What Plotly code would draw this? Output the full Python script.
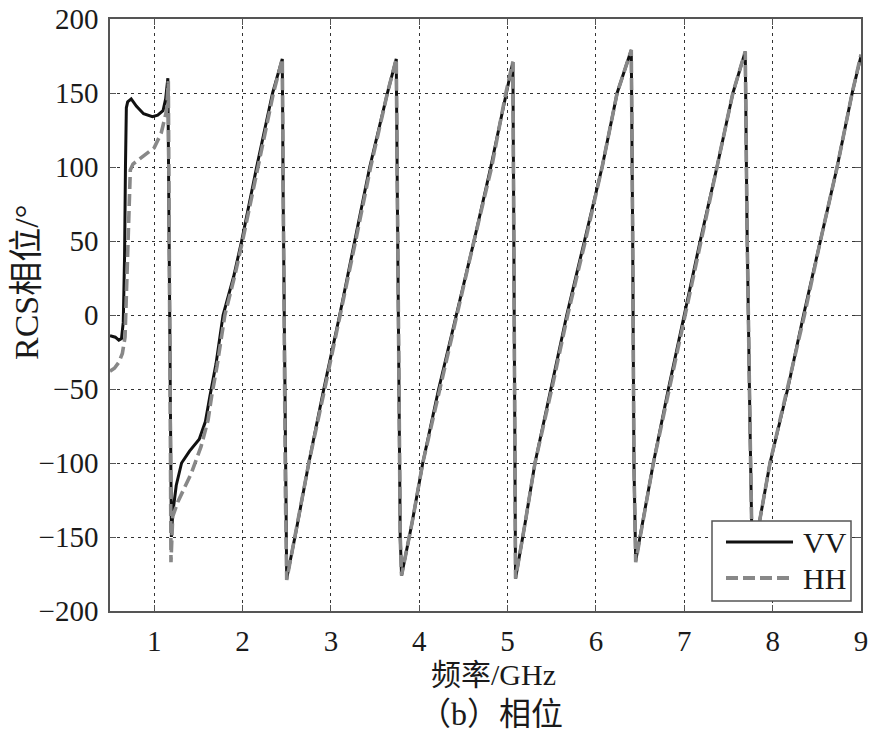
import plotly.graph_objects as go

# ---------------- data ----------------
vv_freq = [0.50, 0.56, 0.60, 0.63, 0.65, 0.665, 0.675, 0.685, 0.70, 0.74, 0.80, 0.88, 0.98, 1.04, 1.10, 1.13, 1.155,
           1.165, 1.175, 1.185, 1.195,
           1.21, 1.25, 1.31, 1.40, 1.51, 1.58, 1.63, 1.70, 1.78, 1.90, 1.99, 2.16, 2.34, 2.45,
           2.46, 2.47, 2.485, 2.50,
           2.60, 2.75, 2.92, 3.10, 3.27, 3.44, 3.64, 3.74,
           3.755, 3.77, 3.785, 3.80,
           3.92, 4.04, 4.22, 4.42, 4.62, 4.81, 4.98, 5.06,
           5.07, 5.08, 5.09,
           5.20, 5.31, 5.49, 5.67, 5.87, 6.07, 6.24, 6.40,
           6.415, 6.43, 6.45,
           6.50, 6.65, 6.82, 7.00, 7.18, 7.37, 7.55, 7.69,
           7.71, 7.745, 7.765, 7.79,
           7.85, 7.97, 8.17, 8.35, 8.54, 8.73, 8.90, 9.00]
vv_phase = [-14, -15, -17, -16, -5, 40, 100, 140, 144, 146, 141, 136, 134, 135, 138, 146, 160,
            80, -20, -100, -150,
            -134, -115, -100, -92, -84, -72, -55, -33, 0, 26, 50, 100, 150, 173,
            80, 0, -120, -178,
            -148, -100, -50, 0, 50, 100, 150, 173,
            60, -50, -150, -176,
            -140, -100, -50, 0, 50, 100, 150, 171,
            60, -80, -178,
            -140, -100, -50, 0, 50, 100, 150, 179,
            60, -100, -166,
            -150, -100, -50, 0, 50, 100, 150, 178,
            60, -80, -150, -175,
            -140, -100, -50, 0, 50, 100, 150, 175]

hh_freq = [0.50, 0.55, 0.60, 0.64, 0.67, 0.69, 0.71, 0.73, 0.76, 0.89, 1.00, 1.08, 1.14, 1.16,
           1.17, 1.18, 1.185, 1.19,
           1.21, 1.27, 1.33, 1.42, 1.53, 1.61, 1.65, 1.71, 1.80, 1.91, 2.00, 2.17, 2.35, 2.45,
           2.46, 2.47, 2.485, 2.50,
           2.60, 2.75, 2.93, 3.11, 3.28, 3.45, 3.64, 3.74,
           3.755, 3.77, 3.785, 3.80,
           3.92, 4.04, 4.23, 4.43, 4.62, 4.82, 4.98, 5.06,
           5.07, 5.08, 5.09,
           5.20, 5.31, 5.50, 5.68, 5.88, 6.07, 6.24, 6.40,
           6.415, 6.43, 6.45,
           6.50, 6.65, 6.83, 7.01, 7.19, 7.37, 7.55, 7.69,
           7.71, 7.745, 7.765, 7.79,
           7.85, 7.97, 8.17, 8.36, 8.54, 8.73, 8.90, 9.00]
hh_phase = [-38, -36, -32, -26, -15, 20, 70, 98, 102, 108, 113, 123, 138, 158,
            80, -20, -100, -167,
            -136, -126, -118, -107, -89, -71, -55, -35, 0, 26, 50, 100, 150, 173,
            80, 0, -120, -179,
            -148, -100, -50, 0, 50, 100, 150, 173,
            60, -50, -150, -176,
            -140, -100, -50, 0, 50, 100, 150, 171,
            60, -80, -178,
            -140, -100, -50, 0, 50, 100, 150, 179,
            60, -100, -167,
            -150, -100, -50, 0, 50, 100, 150, 178,
            60, -80, -150, -175,
            -140, -100, -50, 0, 50, 100, 150, 176]

x_ticks = [1, 2, 3, 4, 5, 6, 7, 8, 9]
y_ticks = [-200, -150, -100, -50, 0, 50, 100, 150, 200]
series_names = ["VV", "HH"]

# ---------------- layout constants (window pixel coordinates) ----------------
W, H = 881, 735
L, R, T, B = 110, 861, 19, 611
PW, PH = R - L, B - T


def px(xp):
    return (xp - L) / PW


def py(yp):
    return (B - yp) / PH


FONT = "Liberation Serif, Noto Sans CJK SC, serif"
VV_COLOR = "#111111"
HH_COLOR = "#888888"
HH_DASH = "12px,5px"
TXT = "#1a1a1a"

fig = go.Figure()
fig.add_trace(go.Scatter(x=vv_freq, y=vv_phase, mode="lines", name=series_names[0],
                         line=dict(color=VV_COLOR, width=3), showlegend=False))
fig.add_trace(go.Scatter(x=hh_freq, y=hh_phase, mode="lines", name=series_names[1],
                         line=dict(color=HH_COLOR, width=3.6, dash=HH_DASH), showlegend=False))

axis_common = dict(
    showline=True, linecolor="#555555", linewidth=1.5, mirror="ticks",
    ticks="inside", ticklen=6, tickcolor="#555555", tickwidth=1.2,
    showgrid=True, gridcolor="#333333", gridwidth=1.4, griddash="3px,4px",
    zeroline=False, automargin=False, ticklabeloverflow="allow",
    tickfont=dict(family=FONT, size=29, color=TXT),
)

fig.update_layout(
    width=W, height=H,
    margin=dict(l=L, r=W - R, t=T, b=H - B),
    plot_bgcolor="white", paper_bgcolor="white",
    xaxis=dict(range=[0.5, 9], tickvals=x_ticks, ticktext=[str(v) for v in x_ticks],
               ticklabelstandoff=3, **axis_common),
    yaxis=dict(range=[-200, 200], tickvals=y_ticks,
               ticktext=[("\u2212" + str(-v)) if v < 0 else str(v) for v in y_ticks],
               ticklabelstandoff=4, **axis_common),
    showlegend=False,
)

# axis titles and caption
fig.add_annotation(x=px(493), y=py(674), xref="paper", yref="paper", text="频率/GHz",
                   showarrow=False, font=dict(family=FONT, size=30, color=TXT),
                   xanchor="center", yanchor="middle")
fig.add_annotation(x=px(491), y=py(714), xref="paper", yref="paper", text="（b）相位",
                   showarrow=False, font=dict(family=FONT, size=32, color=TXT),
                   xanchor="center", yanchor="middle")
fig.add_annotation(x=px(26), y=py(283), xref="paper", yref="paper", text="RCS相位/°",
                   showarrow=False, textangle=-90, font=dict(family=FONT, size=34, color=TXT),
                   xanchor="center", yanchor="middle")

# legend box (drawn by hand to match the long line samples)
fig.add_shape(type="rect", xref="paper", yref="paper", x0=px(712), x1=px(851), y0=py(601), y1=py(521),
              line=dict(color="#555555", width=1.5), fillcolor="white", layer="above")
fig.add_shape(type="line", xref="paper", yref="paper", x0=px(726), x1=px(793), y0=py(542), y1=py(542),
              line=dict(color=VV_COLOR, width=3), layer="above")
fig.add_shape(type="line", xref="paper", yref="paper", x0=px(726), x1=px(793), y0=py(578), y1=py(578),
              line=dict(color=HH_COLOR, width=4, dash=HH_DASH), layer="above")
for name, yy in zip(series_names, [542, 578]):
    fig.add_annotation(x=px(801), y=py(yy), xref="paper", yref="paper", text=name, showarrow=False,
                       font=dict(family=FONT, size=30, color=TXT), xanchor="left", yanchor="middle")

# remove the default page margin so the figure fills the window exactly
fig.write_html("out.html", config={"displayModeBar": False},
               post_script="document.body.style.margin='0';document.body.style.overflow='hidden';")
